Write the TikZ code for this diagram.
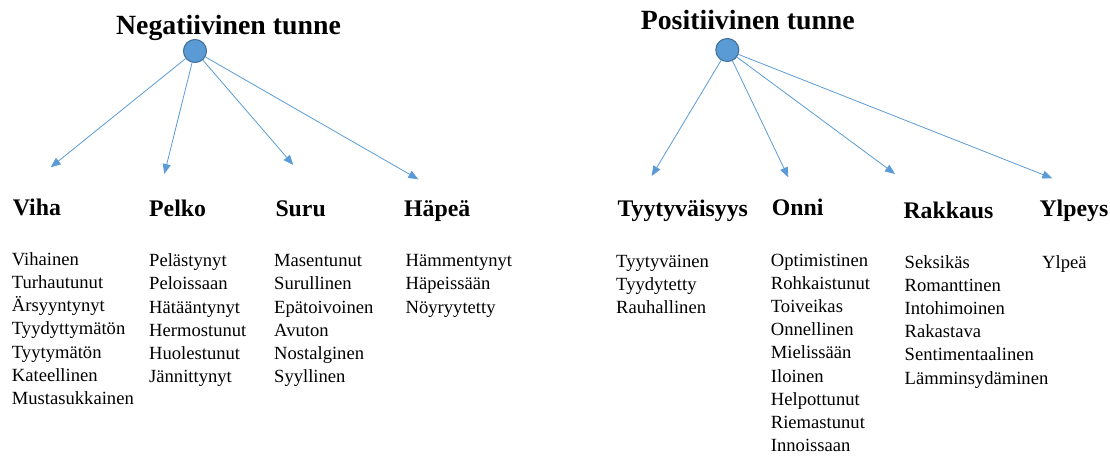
\documentclass[tikz,border=0pt]{standalone}
\usepackage{fontspec}
\setmainfont{Liberation Serif}
\usetikzlibrary{arrows.meta}
\definecolor{hubfill}{HTML}{5B9BD5}
\definecolor{hubedge}{HTML}{41719C}
\definecolor{linkblue}{HTML}{5B9BD5}

\begin{document}
\begin{tikzpicture}[x=1pt,y=-1pt,
  hub/.style={circle,fill=hubfill,draw=hubedge,line width=1.1pt,minimum size=23pt,inner sep=0pt},
  titletext/.style={font=\fontsize{27.8}{33}\selectfont\bfseries,anchor=base,inner sep=0pt},
  heading/.style={font=\fontsize{23.8}{28}\selectfont\bfseries,anchor=base west,inner sep=0pt},
  item/.style={font=\fontsize{18.6}{23}\selectfont,anchor=base west,inner sep=0pt},
  link/.style={draw=linkblue,line width=0.8pt,-{Triangle[length=10pt,width=8pt]}}]
\useasboundingbox (0,0) rectangle (1110,455);

% ---------- negative emotions ----------
\node[titletext] (negtitle) at (228.5,34.3) {Negatiivinen tunne};
\node[hub] (neg) at (195,51) {};

\coordinate (t-viha)  at (50.7,167.3);
\coordinate (t-pelko) at (164.3,174);
\coordinate (t-suru)  at (293.3,165);
\coordinate (t-hapea) at (418.3,179.3);
\draw[link] (neg) -- (t-viha);
\draw[link] (neg) -- (t-pelko);
\draw[link] (neg) -- (t-suru);
\draw[link] (neg) -- (t-hapea);

\node[heading] (viha)  at (12.7,215.7)  {Viha};
\node[heading] (pelko) at (149,216.5)   {Pelko};
\node[heading] (suru)  at (275.3,216.5) {Suru};
\node[heading] (hapea) at (404,216.5)   {Häpeä};

\foreach \w [count=\i from 0] in {Vihainen,Turhautunut,Ärsyyntynyt,Tyydyttymätön,Tyytymätön,Kateellinen,Mustasukkainen}
  \node[item] (viha-\i) at (11.7,265+23.3*\i) {\w};
\foreach \w [count=\i from 0] in {Pelästynyt,Peloissaan,Hätääntynyt,Hermostunut,Huolestunut,Jännittynyt}
  \node[item] (pelko-\i) at (149,266.7+23.2*\i) {\w};
\foreach \w [count=\i from 0] in {Masentunut,Surullinen,Epätoivoinen,Avuton,Nostalginen,Syyllinen}
  \node[item] (suru-\i) at (274,266.7+23.2*\i) {\w};
\foreach \w [count=\i from 0] in {Hämmentynyt,Häpeissään,Nöyryytetty}
  \node[item] (hapea-\i) at (405.5,266.7+23.2*\i) {\w};

% ---------- positive emotions ----------
\node[titletext] (postitle) at (747.8,29.5) {Positiivinen tunne};
\node[hub] (pos) at (727.3,50) {};

\coordinate (t-tyyt)  at (651.7,176);
\coordinate (t-onni)  at (788.3,177.3);
\coordinate (t-rakk)  at (895,174);
\coordinate (t-ylp)   at (1052.3,178.3);
\draw[link] (pos) -- (t-tyyt);
\draw[link] (pos) -- (t-onni);
\draw[link] (pos) -- (t-rakk);
\draw[link] (pos) -- (t-ylp);

\node[heading] (tyyt) at (617.3,216.7)  {Tyytyväisyys};
\node[heading] (onni) at (771.7,215)    {Onni};
\node[heading] (rakk) at (903.3,218.3)  {Rakkaus};
\node[heading] (ylp)  at (1039.3,216.7) {Ylpeys};

\foreach \w [count=\i from 0] in {Tyytyväinen,Tyydytetty,Rauhallinen}
  \node[item] (tyyt-\i) at (616,267.3+23.2*\i) {\w};
\foreach \w [count=\i from 0] in {Optimistinen,Rohkaistunut,Toiveikas,Onnellinen,Mielissään,Iloinen,Helpottunut,Riemastunut,Innoissaan}
  \node[item] (onni-\i) at (770.7,266+23.2*\i) {\w};
\foreach \w [count=\i from 0] in {Seksikäs,Romanttinen,Intohimoinen,Rakastava,Sentimentaalinen,Lämminsydäminen}
  \node[item] (rakk-\i) at (904.5,268+23.2*\i) {\w};
\foreach \w [count=\i from 0] in {Ylpeä}
  \node[item] (ylp-\i) at (1042,268+23.2*\i) {\w};
\end{tikzpicture}
\end{document}
